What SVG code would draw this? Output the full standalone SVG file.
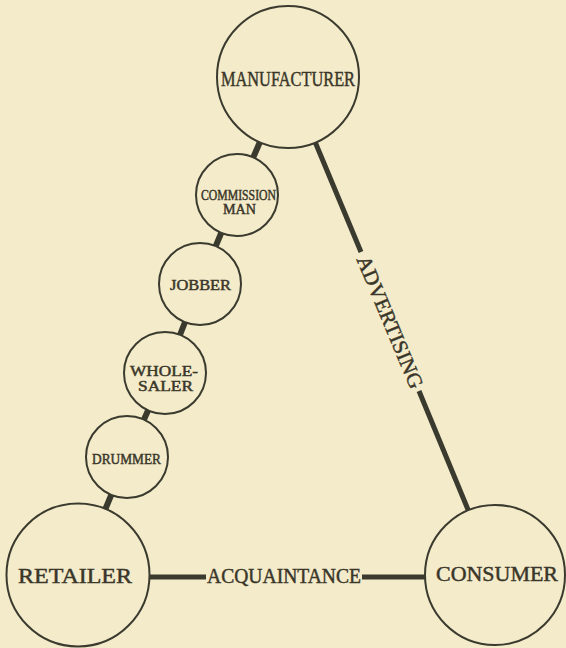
<svg xmlns="http://www.w3.org/2000/svg" width="566" height="648" viewBox="0 0 566 648">
<style>
.bg{fill:#f3ebca}
.node{fill:#f3ebca;stroke:#3a3a2e;stroke-width:2}
.link{stroke:#3a3a2e;stroke-width:5;stroke-linecap:butt}
.chain{stroke:#3a3a2e;stroke-width:6}
text{font-family:"Liberation Serif","DejaVu Serif",serif;fill:#3a3629;stroke:#3a3629;stroke-width:0.45;text-anchor:middle}
.big{font-size:21px}
.sm{font-size:14px}
</style>
<rect class="bg" x="0" y="0" width="566" height="648"/>
<g id="connectors">
<line class="chain" x1="288" y1="77" x2="237" y2="195"/>
<line class="chain" x1="237" y1="195" x2="200" y2="284"/>
<line class="chain" x1="200" y1="284" x2="165" y2="373"/>
<line class="chain" x1="165" y1="373" x2="127" y2="457"/>
<line class="chain" x1="127" y1="457" x2="78" y2="575"/>
<line class="link" x1="288" y1="77" x2="361" y2="252"/>
<line class="link" x1="419" y1="391" x2="495" y2="575"/>
<line class="link" x1="78" y1="577" x2="206" y2="577"/>
<line class="link" x1="362" y1="577" x2="495" y2="577"/>
<text class="big" transform="translate(390,322) rotate(67.4)" y="7" textLength="142" lengthAdjust="spacingAndGlyphs">ADVERTISING</text>
<text class="big" x="284" y="583" font-size="20" textLength="154" lengthAdjust="spacingAndGlyphs">ACQUAINTANCE</text>
</g>
<g id="manufacturer">
<circle class="node" cx="288" cy="77" r="71"/>
<text class="big" x="288" y="86" textLength="134" lengthAdjust="spacingAndGlyphs">MANUFACTURER</text>
</g>
<g id="commission-man">
<circle class="node" cx="237" cy="195" r="41"/>
<text class="sm" x="238.5" y="200" textLength="75" lengthAdjust="spacingAndGlyphs">COMMISSION</text>
<text class="sm" x="239.5" y="214" textLength="33" lengthAdjust="spacingAndGlyphs">MAN</text>
</g>
<g id="jobber">
<circle class="node" cx="200" cy="284" r="41"/>
<text class="sm" x="200.5" y="290" font-size="15" textLength="61" lengthAdjust="spacingAndGlyphs">JOBBER</text>
</g>
<g id="wholesaler">
<circle class="node" cx="165" cy="373" r="41"/>
<text class="sm" x="164" y="376" font-size="15" textLength="68" lengthAdjust="spacingAndGlyphs">WHOLE-</text>
<text class="sm" x="165.5" y="391" font-size="15" textLength="55" lengthAdjust="spacingAndGlyphs">SALER</text>
</g>
<g id="drummer">
<circle class="node" cx="127" cy="457" r="41"/>
<text class="sm" x="126.5" y="464" font-size="15" textLength="69" lengthAdjust="spacingAndGlyphs">DRUMMER</text>
</g>
<g id="retailer">
<circle class="node" cx="78" cy="575" r="71.5"/>
<text class="big" x="75" y="583" font-size="22" textLength="114" lengthAdjust="spacingAndGlyphs">RETAILER</text>
</g>
<g id="consumer">
<circle class="node" cx="495" cy="575" r="70"/>
<text class="big" x="497" y="581" textLength="122" lengthAdjust="spacingAndGlyphs">CONSUMER</text>
</g>
</svg>
